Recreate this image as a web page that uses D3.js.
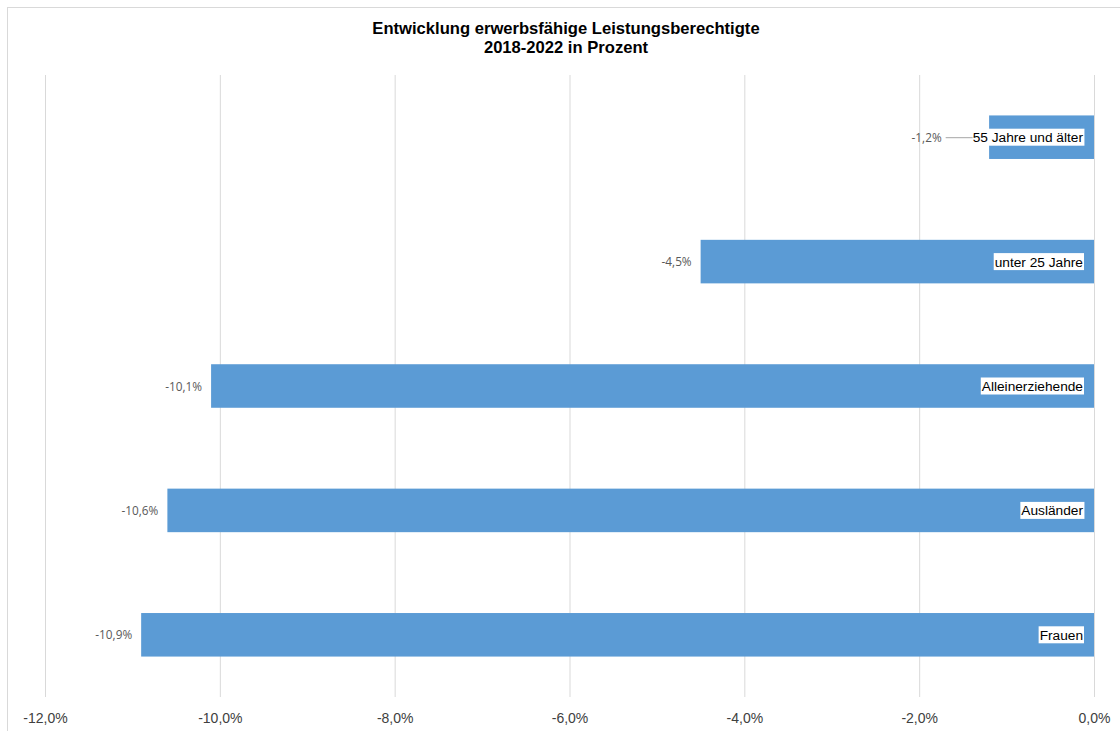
<!DOCTYPE html>
<html>
<head>
<meta charset="utf-8">
<script src="https://cdn.jsdelivr.net/npm/d3@7"></script>
<style>
  html, body { margin: 0; padding: 0; background: #fff; }
  svg { display: block; }
</style>
</head>
<body>
<svg id="chart" width="1120" height="731"></svg>
<script>
// Veränderung 2018–2022 je Personengruppe (in Prozent)
const categories = ["55 Jahre und älter", "unter 25 Jahre", "Alleinerziehende", "Ausländer", "Frauen"];
const values = [-1.2, -4.5, -10.1, -10.6, -10.9];
const tickValues = [-12, -10, -8, -6, -4, -2, 0];
const titleLines = ["Entwicklung erwerbsfähige Leistungsberechtigte", "2018-2022 in Prozent"];

const svg = d3.select("#chart");
const W = 1120, H = 731;

// Chart frame
svg.append("rect")
  .attr("x", 7.5).attr("y", 7.5)
  .attr("width", W + 10).attr("height", H + 10)
  .attr("fill", "#fff").attr("stroke", "#d9d9d9").attr("stroke-width", 1);

const plot = { left: 45, right: 1094, top: 75, bottom: 697 };

const x = d3.scaleLinear().domain([-12, 0]).range([plot.left, plot.right]);
const y = d3.scaleBand().domain(categories).range([plot.top, plot.bottom]).paddingInner(0.65).paddingOuter(0.325);

const fmt = v => d3.format(".1f")(v).replace("−", "-").replace(".", ",") + "%";

// Title
const title = svg.append("text")
  .attr("x", 566).attr("y", 34)
  .attr("text-anchor", "middle")
  .attr("font-family", "Liberation Sans, Arial, sans-serif")
  .attr("font-size", 16.6).attr("font-weight", "bold").attr("fill", "#000");
titleLines.forEach((t, i) => {
  title.append("tspan").attr("x", 566).attr("dy", i === 0 ? 0 : 19).text(t);
});

// Vertical gridlines and tick labels
const xAxis = d3.axisBottom(x).tickValues(tickValues).tickSize(-(plot.bottom - plot.top)).tickFormat(fmt);
const gx = svg.append("g").attr("transform", `translate(0,${plot.bottom})`).call(xAxis);
gx.select(".domain").remove();
gx.selectAll(".tick line").attr("stroke", "#d9d9d9").attr("stroke-width", 1);
gx.selectAll(".tick text")
  .attr("y", 16)
  .attr("font-family", "Liberation Sans, Arial, sans-serif")
  .attr("font-size", 14).attr("fill", "#404040");

// Bars
svg.append("g").selectAll("rect")
  .data(categories)
  .join("rect")
  .attr("x", (d, i) => x(values[i]))
  .attr("y", d => y(d))
  .attr("width", (d, i) => x(0) - x(values[i]))
  .attr("height", y.bandwidth())
  .attr("fill", "#5b9bd5");

// Category labels inside the bars, on white boxes
const catG = svg.append("g");
const labelLeft = [];
categories.forEach((c, i) => {
  const cy = y(c) + y.bandwidth() / 2;
  const t = catG.append("text")
    .attr("x", x(0) - 11)
    .attr("y", cy + 5)
    .attr("text-anchor", "end")
    .attr("font-family", "Liberation Sans, Arial, sans-serif")
    .attr("font-size", 13.7).attr("fill", "#000")
    .text(c);
  const bb = t.node().getBBox();
  labelLeft.push(bb.x);
  catG.insert("rect", () => t.node())
    .attr("x", bb.x - 1).attr("y", cy - 8.5)
    .attr("width", bb.width + 2).attr("height", 17)
    .attr("fill", "#fff");
});

// Leader line for the short bar whose value sits beyond its label
const leadCy = y(categories[0]) + y.bandwidth() / 2;
svg.append("line")
  .attr("x1", labelLeft[0] - 27).attr("x2", labelLeft[0])
  .attr("y1", leadCy + 0.5).attr("y2", leadCy + 0.5)
  .attr("stroke", "#a6a6a6").attr("stroke-width", 1);

// Value labels left of the bar ends
svg.append("g").selectAll("text")
  .data(categories)
  .join("text")
  .attr("x", (d, i) => i === 0 ? labelLeft[0] - 31 : x(values[i]) - 9)
  .attr("y", d => y(d) + y.bandwidth() / 2 + 4.5)
  .attr("text-anchor", "end")
  .attr("font-family", "Open Sans, DejaVu Sans, sans-serif")
  .attr("font-size", 11.8).attr("fill", "#595959")
  .text((d, i) => fmt(values[i]));
</script>
</body>
</html>
